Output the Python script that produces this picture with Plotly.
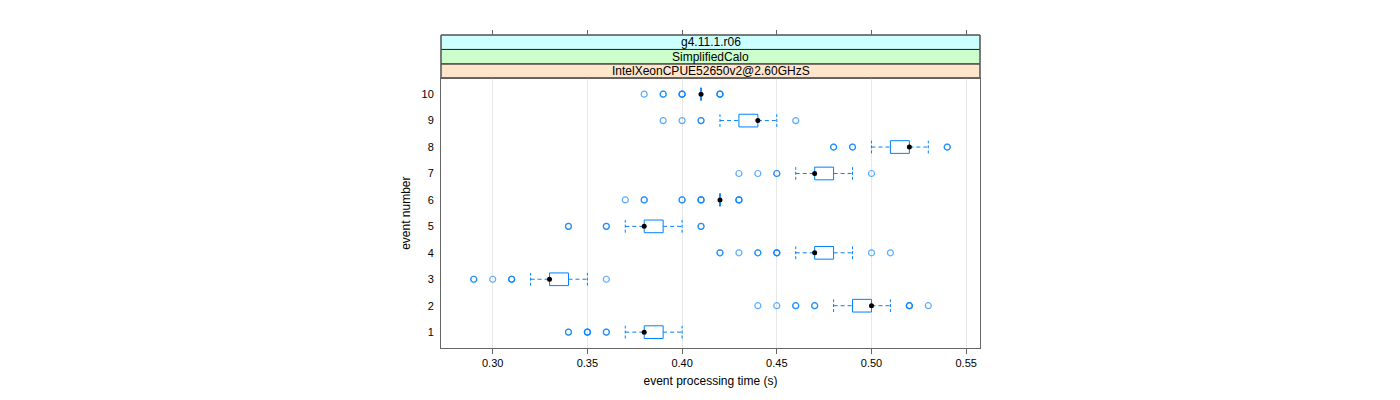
import plotly.graph_objects as go

# ---------------- data ----------------
events = [1, 2, 3, 4, 5, 6, 7, 8, 9, 10]
whisker_lo = [0.37, 0.48, 0.32, 0.46, 0.37, 0.42, 0.46, 0.50, 0.42, 0.41]
q1 = [0.38, 0.49, 0.33, 0.47, 0.38, 0.42, 0.47, 0.51, 0.43, 0.41]
median = [0.38, 0.50, 0.33, 0.47, 0.38, 0.42, 0.47, 0.52, 0.44, 0.41]
q3 = [0.39, 0.50, 0.34, 0.48, 0.39, 0.42, 0.48, 0.52, 0.44, 0.41]
whisker_hi = [0.40, 0.51, 0.35, 0.49, 0.40, 0.42, 0.49, 0.53, 0.45, 0.41]
# outliers (repeated values = several events at the same time)
outliers = {
    1: [0.34, 0.34, 0.35, 0.35, 0.35, 0.36, 0.36],
    2: [0.44, 0.45, 0.46, 0.46, 0.47, 0.47, 0.52, 0.52, 0.52, 0.53],
    3: [0.29, 0.29, 0.30, 0.31, 0.31, 0.31, 0.36],
    4: [0.42, 0.42, 0.43, 0.44, 0.44, 0.45, 0.45, 0.45, 0.50, 0.51],
    5: [0.34, 0.34, 0.36, 0.36, 0.41, 0.41],
    6: [0.37, 0.38, 0.38, 0.40, 0.40, 0.41, 0.41, 0.41, 0.43, 0.43, 0.43],
    7: [0.43, 0.44, 0.45, 0.45, 0.50],
    8: [0.48, 0.48, 0.49, 0.49, 0.54, 0.54],
    9: [0.39, 0.40, 0.41, 0.41, 0.46],
    10: [0.38, 0.39, 0.39, 0.40, 0.40, 0.40, 0.42, 0.42, 0.42],
}
x_ticks = [0.30, 0.35, 0.40, 0.45, 0.50, 0.55]
x_ticktext = ["0.30", "0.35", "0.40", "0.45", "0.50", "0.55"]
strip_labels = ["IntelXeonCPUE52650v2@2.60GHzS", "SimplifiedCalo", "g4.11.1.r06"]
strip_colors = ["#ffe5cc", "#ccffcc", "#ccffff"]

# ---------------- style ----------------
BLUE = "#0080ff"
FONT = "Liberation Sans, Arial, sans-serif"
H = 0.24  # half box height (y units)
XR = [0.2727, 0.5573]
YR = [0.4, 10.6]
DOM_TOP = 0.8617

box_x, box_y = [], []
wh_x, wh_y = [], []
cap_x, cap_y = [], []
for e, lo, a, b, hi in zip(events, whisker_lo, q1, q3, whisker_hi):
    box_x += [a, b, b, a, a, None]
    box_y += [e - H, e - H, e + H, e + H, e - H, None]
    wh_x += [lo, a, None, b, hi, None]
    wh_y += [e, e, None, e, e, None]
    cap_x += [lo, lo, None, hi, hi, None]
    cap_y += [e - H, e + H, None, e - H, e + H, None]

out_x, out_y = [], []
for e in events:
    for v in outliers[e]:
        out_x.append(v)
        out_y.append(e)

fig = go.Figure()
fig.add_trace(go.Scatter(x=wh_x, y=wh_y, mode="lines",
                         line=dict(color=BLUE, width=1, dash="4px,3px"),
                         hoverinfo="skip", showlegend=False))
fig.add_trace(go.Scatter(x=cap_x, y=cap_y, mode="lines",
                         line=dict(color=BLUE, width=1, dash="3px,2px"),
                         hoverinfo="skip", showlegend=False))
fig.add_trace(go.Scatter(x=box_x, y=box_y, mode="lines",
                         line=dict(color=BLUE, width=1),
                         hoverinfo="skip", showlegend=False))
fig.add_trace(go.Scatter(x=out_x, y=out_y, mode="markers",
                         marker=dict(symbol="circle-open", size=6, color=BLUE,
                                     opacity=0.65, line=dict(width=1.2, color=BLUE)),
                         showlegend=False))
fig.add_trace(go.Scatter(x=median, y=events, mode="markers",
                         marker=dict(symbol="circle", size=5, color="black"),
                         showlegend=False))

# strips
n = len(strip_labels)
sh = (1 - DOM_TOP) / n
for i, (lab, col) in enumerate(zip(strip_labels, strip_colors)):
    y0 = DOM_TOP + i * sh
    y1 = y0 + sh
    fig.add_shape(type="rect", xref="paper", yref="paper", x0=0, x1=1, y0=y0, y1=y1,
                  fillcolor=col, line=dict(color="#222222", width=1), layer="below")
    fig.add_annotation(xref="paper", yref="paper", x=0.5, y=(y0 + y1) / 2,
                       text=lab, showarrow=False, font=dict(family=FONT, size=12, color="black"),
                       yanchor="middle", xanchor="center")
fig.add_shape(type="rect", xref="paper", yref="paper", x0=0, x1=1, y0=DOM_TOP, y1=1,
              fillcolor="rgba(0,0,0,0)", line=dict(color="#666666", width=1))

# page body has an 8px margin, compensate in the figure margins
fig.update_layout(
    width=1400, height=400,
    margin=dict(l=433, r=428, t=27, b=60),
    paper_bgcolor="white", plot_bgcolor="white",
    font=dict(family=FONT, size=11, color="black"),
    xaxis=dict(range=XR, domain=[0, 1], tickvals=x_ticks, ticktext=x_ticktext,
               ticks="outside", ticklen=5, tickcolor="#666666",
               showgrid=True, gridcolor="#e8e8e8", gridwidth=1,
               showline=True, linecolor="#666666", linewidth=1, mirror=True,
               zeroline=False, tickfont=dict(size=11),
               title=dict(text="event processing time (s)", font=dict(size=12), standoff=8)),
    xaxis2=dict(range=XR, overlaying="x", side="top", anchor="free", position=1,
                tickvals=x_ticks, showticklabels=False, ticks="outside", ticklen=5,
                tickcolor="#666666", showgrid=False, showline=False, zeroline=False),
    yaxis=dict(range=YR, domain=[0, DOM_TOP], tickvals=events,
               ticktext=[str(e) for e in events],
               ticks="outside", ticklen=4, tickcolor="rgba(0,0,0,0)",
               showgrid=False, showline=True, linecolor="#666666", linewidth=1,
               mirror=True, zeroline=False, tickfont=dict(size=11),
               title=dict(text="event number", font=dict(size=12), standoff=8)),
)
# invisible trace so the top axis renders
fig.add_trace(go.Scatter(x=[XR[0]], y=[YR[0]], xaxis="x2", mode="markers",
                         marker=dict(opacity=0), hoverinfo="skip", showlegend=False))

fig.write_html("out.html")
